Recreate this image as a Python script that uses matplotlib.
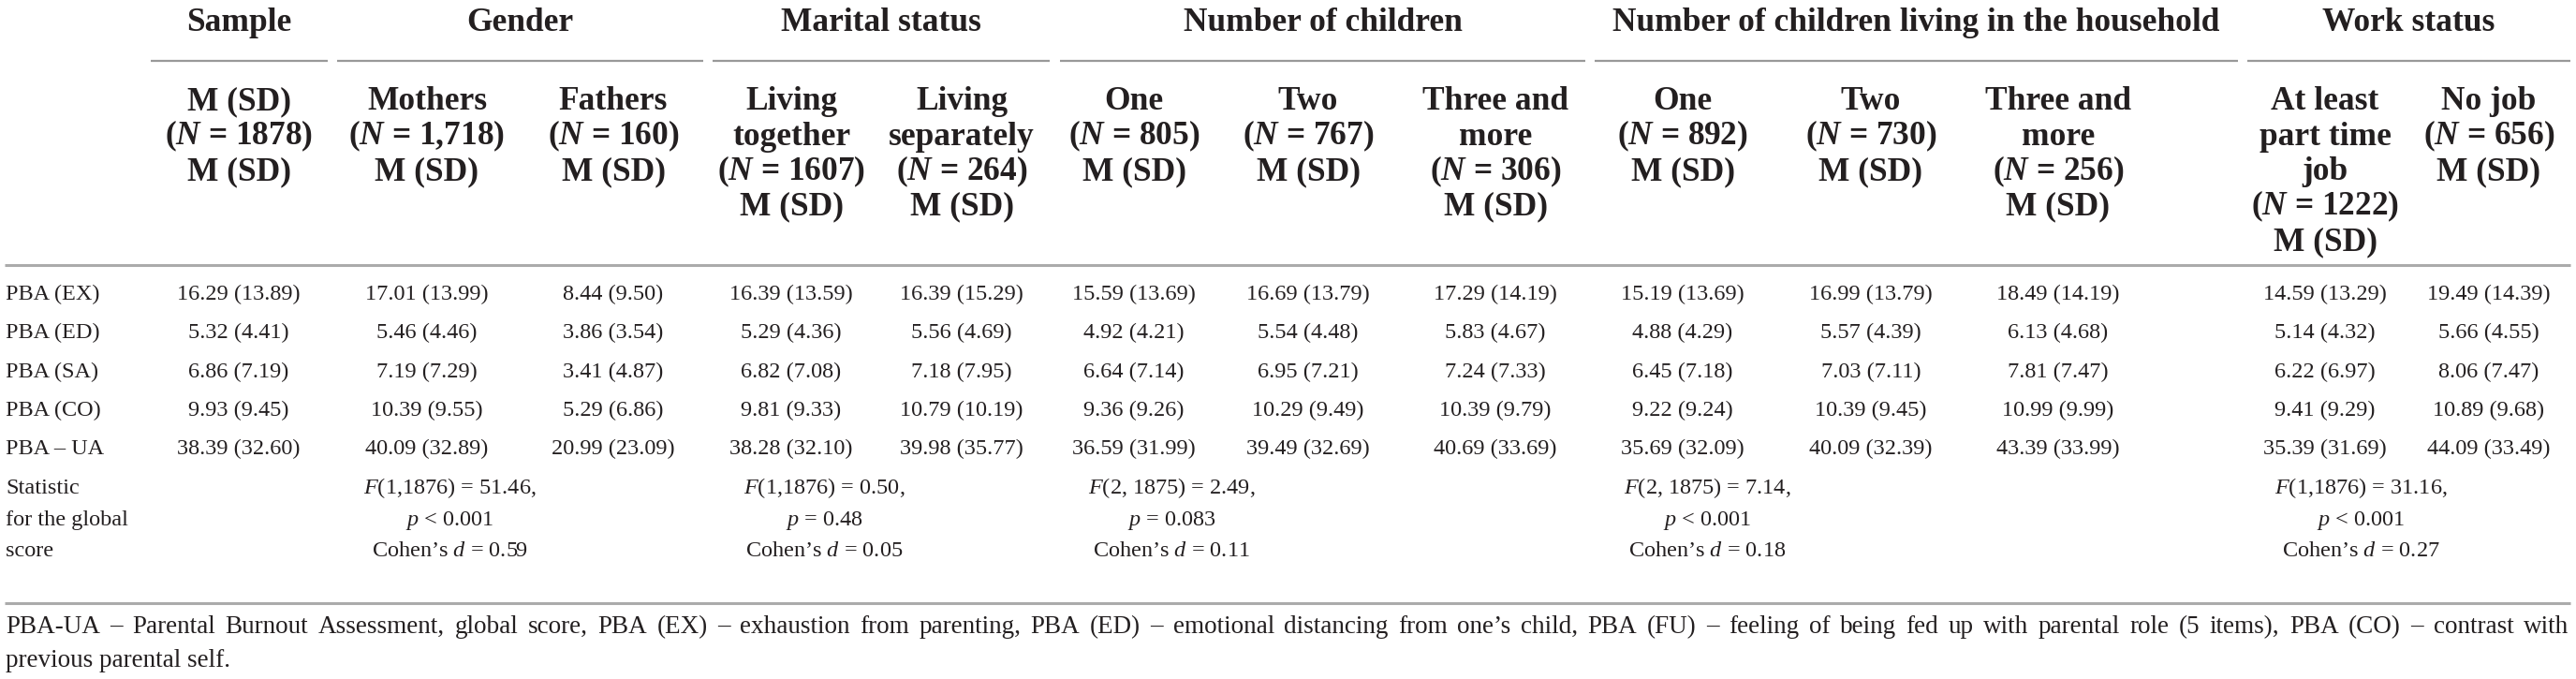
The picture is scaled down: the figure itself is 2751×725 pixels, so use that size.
import matplotlib
matplotlib.use("Agg")
import matplotlib.pyplot as plt

plt.rcParams['font.family'] = ['Liberation Serif', 'DejaVu Serif']
plt.rcParams['mathtext.fontset'] = 'custom'
plt.rcParams['mathtext.rm'] = 'Liberation Serif'
plt.rcParams['mathtext.it'] = 'Liberation Serif:italic'
plt.rcParams['mathtext.bf'] = 'Liberation Serif:bold'
plt.rcParams['mathtext.bfit'] = 'Liberation Serif:italic:bold'

TXT = '#231f20'
RULE = '#ababab'

# --- data ---
groups = ["Sample", "Gender", "Marital status", "Number of children",
          "Number of children living in the household", "Work status"]

col_heads = [
    ["M (SD)", "($\\mathbfit{N}$ = 1878)", "M (SD)"],
    ["Mothers", "($\\mathbfit{N}$ = 1,718)", "M (SD)"],
    ["Fathers", "($\\mathbfit{N}$ = 160)", "M (SD)"],
    ["Living", "together", "($\\mathbfit{N}$ = 1607)", "M (SD)"],
    ["Living", "separately", "($\\mathbfit{N}$ = 264)", "M (SD)"],
    ["One", "($\\mathbfit{N}$ = 805)", "M (SD)"],
    ["Two", "($\\mathbfit{N}$ = 767)", "M (SD)"],
    ["Three and", "more", "($\\mathbfit{N}$ = 306)", "M (SD)"],
    ["One", "($\\mathbfit{N}$ = 892)", "M (SD)"],
    ["Two", "($\\mathbfit{N}$ = 730)", "M (SD)"],
    ["Three and", "more", "($\\mathbfit{N}$ = 256)", "M (SD)"],
    ["At least", "part time", "job", "($\\mathbfit{N}$ = 1222)", "M (SD)"],
    ["No job", "($\\mathbfit{N}$ = 656)", "M (SD)"],
]

row_labels = ["PBA (EX)", "PBA (ED)", "PBA (SA)", "PBA (CO)", "PBA – UA"]

means = [
    [16.29, 17.01, 8.44, 16.39, 16.39, 15.59, 16.69, 17.29, 15.19, 16.99, 18.49, 14.59, 19.49],
    [5.32, 5.46, 3.86, 5.29, 5.56, 4.92, 5.54, 5.83, 4.88, 5.57, 6.13, 5.14, 5.66],
    [6.86, 7.19, 3.41, 6.82, 7.18, 6.64, 6.95, 7.24, 6.45, 7.03, 7.81, 6.22, 8.06],
    [9.93, 10.39, 5.29, 9.81, 10.79, 9.36, 10.29, 10.39, 9.22, 10.39, 10.99, 9.41, 10.89],
    [38.39, 40.09, 20.99, 38.28, 39.98, 36.59, 39.49, 40.69, 35.69, 40.09, 43.39, 35.39, 44.09],
]
sds = [
    [13.89, 13.99, 9.50, 13.59, 15.29, 13.69, 13.79, 14.19, 13.69, 13.79, 14.19, 13.29, 14.39],
    [4.41, 4.46, 3.54, 4.36, 4.69, 4.21, 4.48, 4.67, 4.29, 4.39, 4.68, 4.32, 4.55],
    [7.19, 7.29, 4.87, 7.08, 7.95, 7.14, 7.21, 7.33, 7.18, 7.11, 7.47, 6.97, 7.47],
    [9.45, 9.55, 6.86, 9.33, 10.19, 9.26, 9.49, 9.79, 9.24, 9.45, 9.99, 9.29, 9.68],
    [32.60, 32.89, 23.09, 32.10, 35.77, 31.99, 32.69, 33.69, 32.09, 32.39, 33.99, 31.69, 33.49],
]

stat_label = ["Statistic", "for the global", "score"]
stat_texts = [
    ["$F$(1,1876) = 51.46,", "$p$ < 0.001", "Cohen’s $d$ = 0.59"],
    ["$F$(1,1876) = 0.50,", "$p$ = 0.48", "Cohen’s $d$ = 0.05"],
    ["$F$(2, 1875) = 2.49,", "$p$ = 0.083", "Cohen’s $d$ = 0.11"],
    ["$F$(2, 1875) = 7.14,", "$p$ < 0.001", "Cohen’s $d$ = 0.18"],
    ["$F$(1,1876) = 31.16,", "$p$ < 0.001", "Cohen’s $d$ = 0.27"],
]

note_lines = [
    "PBA-UA – Parental Burnout Assessment, global score, PBA (EX) – exhaustion from parenting, "
    "PBA (ED) – emotional distancing from one’s child, PBA (FU) – feeling of being fed up with "
    "parental role (5 items), PBA (CO) – contrast with",
    "previous parental self.",
]

# --- layout (pixels) ---
W, H = 2751, 725
col_x = [255, 456, 655, 845, 1027, 1211, 1397, 1597, 1797, 1998, 2198, 2483, 2658]
group_span = [(161, 350), (360, 751), (761, 1121), (1132, 1693), (1703, 2390), (2400, 2745)]
stat_x = [480, 880, 1251, 1823, 2521]
left_x = 6

fig = plt.figure(figsize=(W / 100, H / 100), dpi=100)
ax = fig.add_axes([0, 0, 1, 1])
ax.set_xlim(0, W)
ax.set_ylim(H, 0)
ax.axis('off')

HEAD_FS = 25.5
BODY_FS = 17.5
NOTE_FS = 19.5

# group titles + underlines
for g, (x0, x1) in zip(groups, group_span):
    ax.text((x0 + x1) / 2, 33, g, ha='center', va='baseline', fontsize=HEAD_FS,
            fontweight='bold', color=TXT)
    ax.plot([x0, x1], [65, 65], color='#999999', lw=1.6, solid_capstyle='butt')

# column headers
for x, lines in zip(col_x, col_heads):
    for i, s in enumerate(lines):
        ax.text(x, 117 + 37.5 * i, s, ha='center', va='baseline', fontsize=HEAD_FS,
                fontweight='bold', color=TXT)

ax.plot([5, W - 6], [283, 283], color=RULE, lw=2.2, solid_capstyle='butt')

# body rows
for r, lab in enumerate(row_labels):
    y = 320 + 41.3 * r
    ax.text(left_x, y, lab, ha='left', va='baseline', fontsize=BODY_FS, color=TXT)
    for c, x in enumerate(col_x):
        ax.text(x, y, f"{means[r][c]:.2f} ({sds[r][c]:.2f})", ha='center', va='baseline',
                fontsize=BODY_FS, color=TXT)

# statistics
stat_y = [527, 560.5, 594]
for i, s in enumerate(stat_label):
    ax.text(left_x, stat_y[i], s, ha='left', va='baseline', fontsize=BODY_FS, color=TXT)
for x, lines in zip(stat_x, stat_texts):
    for i, s in enumerate(lines):
        ax.text(x, stat_y[i], s, ha='center', va='baseline', fontsize=BODY_FS, color=TXT)

ax.plot([5, W - 6], [644, 644], color=RULE, lw=2.2, solid_capstyle='butt')

# footnote, first line justified
renderer = fig.canvas.get_renderer()
words = note_lines[0].split(' ')
arts = [ax.text(0, 676, w, ha='left', va='baseline', fontsize=NOTE_FS, color=TXT) for w in words]
widths = [a.get_window_extent(renderer).width for a in arts]
gap = (W - 8 - left_x - sum(widths)) / (len(words) - 1)
x = left_x
for a, w in zip(arts, widths):
    a.set_x(x)
    x += w + gap
ax.text(left_x, 712, note_lines[1], ha='left', va='baseline', fontsize=NOTE_FS, color=TXT)

fig.savefig('out.png', dpi=100, facecolor='white')
